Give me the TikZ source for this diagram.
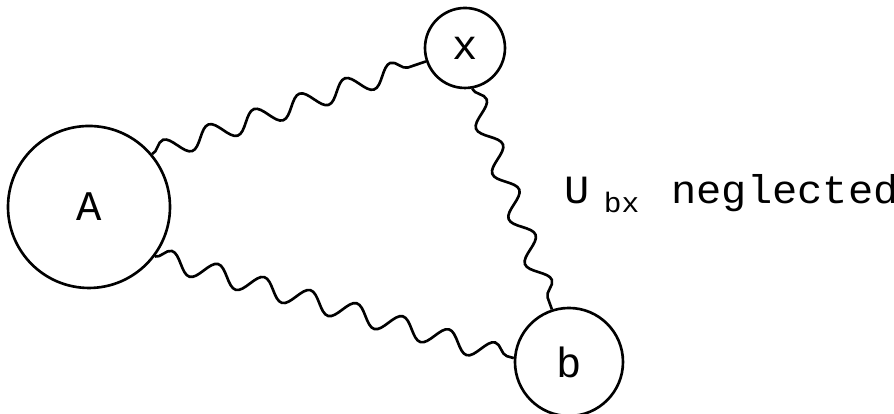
\documentclass[tikz,border=0pt]{standalone}
\usepackage{fontspec}
\newfontfamily\plotfont{Liberation Mono}
\newfontfamily\notefont[FakeStretch=1.05]{Liberation Mono}
\usetikzlibrary{decorations.pathmorphing}

\begin{document}
\begin{tikzpicture}[
    blob/.style={circle, draw, line width=0.75pt, inner sep=0pt,
                 font=\plotfont\fontsize{12pt}{14pt}\selectfont},
    wiggle/.style={line width=0.75pt,
                   decorate, decoration={snake, segment length=0.48cm, amplitude=0.1cm}},
    note/.style={inner sep=0pt, anchor=base west,
                 font=\notefont\fontsize{11.4pt}{13pt}\selectfont}
  ]
  \useasboundingbox (0,0) rectangle (8.94,4.14);

  % ========== Blobs ==========
  \node[blob, minimum size=1.62cm] (A) at (0.89,2.07) {A};
  \node[blob, minimum size=0.80cm] (x) at (4.65,3.66) {x};
  \node[blob, minimum size=1.08cm] (b) at (5.69,0.52) {b};

  % ========== Wavy lines ==========
  \draw[wiggle] (A.40) -- (x.199);
  \draw[wiggle] (A.-37) -- (b.176);
  \draw[wiggle] (x.-80) -- (b.108);

  % \draw[dashed] (b) -- (x);
  \node[note] (ubx) at (5.64,2.10)
    {U\hspace{0.14cm}\raisebox{-0.09cm}{\fontsize{8pt}{9pt}\selectfont bx}\hspace{0.32cm}neglected};

\end{tikzpicture}
\end{document}
